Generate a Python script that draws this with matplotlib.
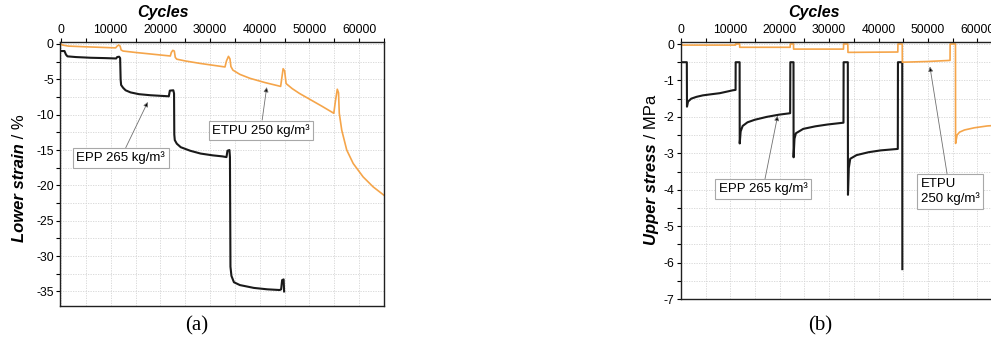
import matplotlib
matplotlib.use("Agg")
import matplotlib.pyplot as plt
from matplotlib.ticker import MultipleLocator

plt.rcParams["font.family"] = ["Liberation Sans", "DejaVu Sans"]
plt.rcParams["axes.unicode_minus"] = False

BLACK = "#1a1a1a"
ORANGE = "#f5a54a"

# (a) lower strain, %
epp_strain_cycles = [0, 700, 1000, 1300, 3000, 6000, 9000, 11100, 11300, 11700, 11900, 12000,
                     12100, 12500, 13000, 14000, 15700, 18000, 21700, 21900, 22600, 22750,
                     22800, 22900, 23300, 24100, 26000, 28100, 30500, 32500, 33300, 33500,
                     33900, 34000, 34100, 34300, 34800, 36000, 38800, 41500, 44000, 44300,
                     44500, 44800, 44900]
epp_strain = [-1.0, -1.0, -1.5, -1.75, -1.85, -1.95, -2.0, -2.05, -1.85, -1.8, -2.0, -5.0,
              -5.8, -6.2, -6.55, -6.85, -7.1, -7.25, -7.4, -6.6, -6.55, -7.0,
              -12.8, -13.6, -14.1, -14.6, -15.1, -15.5, -15.75, -15.9, -16.0, -15.1,
              -15.0, -16.0, -31.5, -32.8, -33.7, -34.1, -34.5, -34.7, -34.8, -34.7,
              -33.4, -33.3, -35.0]

etpu_strain_cycles = [0, 300, 1500, 5000, 11000, 11300, 11600, 11900, 12100, 12500, 15000,
                      18500, 22000, 22200, 22500, 22800, 23000, 23300, 25000, 28000, 31000,
                      33000, 33300, 33700, 34000, 34200, 34600, 36000, 38000, 41000, 44200,
                      44400, 44700, 45000, 45200, 45300, 46500, 48000, 50000, 52500, 54900,
                      55200, 55600, 55850, 56000, 56500, 57500, 58800, 60800, 62800, 65000]
etpu_strain = [0.0, -0.15, -0.3, -0.4, -0.55, -0.3, -0.15, -0.3, -0.85, -1.0, -1.2,
               -1.45, -1.7, -1.2, -0.9, -1.0, -1.9, -2.15, -2.4, -2.75, -3.05,
               -3.25, -2.4, -1.75, -2.1, -3.2, -3.7, -4.3, -4.85, -5.45, -6.0,
               -5.0, -3.5, -3.8, -5.0, -5.6, -6.3, -7.0, -7.8, -8.8, -9.8,
               -8.2, -6.4, -6.9, -9.8, -12.2, -15.0, -16.9, -18.8, -20.2, -21.4]

# (b) upper stress, MPa
epp_stress_cycles = [0, 1180, 1210, 1430, 2070, 3150, 4420, 6090, 7860, 9530, 10510, 11050,
                     11070, 11870, 11890, 12080, 12480, 13460, 14930, 17380, 19840, 22100,
                     22140, 22780, 22800, 22980, 23270, 24750, 27200, 29660, 32900,
                     32930, 33780, 33810, 33980, 34270, 35550, 38000, 40460, 43900,
                     43930, 44800, 44820]
epp_stress = [-0.5, -0.5, -1.72, -1.58, -1.5, -1.45, -1.41, -1.38, -1.35, -1.3, -1.27, -1.26,
              -0.5, -0.5, -2.73, -2.4, -2.25, -2.15, -2.08, -2.0, -1.94, -1.9,
              -0.5, -0.5, -3.11, -2.6, -2.45, -2.33, -2.26, -2.21, -2.16,
              -0.5, -0.5, -4.14, -3.4, -3.15, -3.05, -2.97, -2.92, -2.88,
              -0.5, -0.5, -6.18]

etpu_stress_cycles = [0, 300, 11050, 11070, 11870, 11890, 22100, 22140, 22780, 22800, 32900,
                      32930, 33780, 33810, 43900, 43930, 44800, 44820, 50000, 54480, 54500,
                      55580, 55600, 55900, 56400, 57400, 59400, 62000, 65000]
etpu_stress = [0.0, -0.03, -0.03, 0.0, 0.0, -0.09, -0.09, 0.0, 0.0, -0.14, -0.14,
               0.0, 0.0, -0.23, -0.22, 0.0, 0.0, -0.5, -0.48, -0.45, 0.0,
               0.0, -2.73, -2.5, -2.42, -2.36, -2.3, -2.25, -2.22]


def style_axes(ax, ymajor, yminor):
    ax.xaxis.set_major_locator(MultipleLocator(10000))
    ax.xaxis.set_minor_locator(MultipleLocator(5000))
    ax.yaxis.set_major_locator(MultipleLocator(ymajor))
    ax.yaxis.set_minor_locator(MultipleLocator(yminor))
    ax.tick_params(which="both", direction="out", length=3, width=0.8, labelsize=8.8,
                   top=True, labeltop=True, bottom=False, labelbottom=False,
                   right=False, pad=1.5)
    ax.grid(True, which="both", color="#d4d4d4", linestyle=(0, (1.5, 1.5)), linewidth=0.6)
    ax.set_axisbelow(True)
    for sp in ax.spines.values():
        sp.set_linewidth(1.0)
        sp.set_color("#202020")


def ylabel_two_part(fig, ax, x, y, bold, plain):
    t = fig.text(x, y, bold, rotation=90, rotation_mode="anchor", ha="left",
                 va="baseline", fontsize=12, fontweight="bold", fontstyle="italic")
    ax.annotate(plain, xy=(x, 1.0), xycoords=("figure fraction", t), rotation=90,
                rotation_mode="anchor", ha="left", va="baseline", fontsize=12,
                annotation_clip=False)


box = dict(boxstyle="square,pad=0.25", fc="white", ec="#a8a8a8", lw=0.8)
arrow = dict(arrowstyle="-|>", edgecolor="#707070", facecolor="black", lw=0.6,
             mutation_scale=7, shrinkA=0, shrinkB=0)

fig = plt.figure(figsize=(9.91, 3.41), dpi=100)

# ---- (a)
ax1 = fig.add_axes([60 / 991, 1 - 306 / 341, 324 / 991, 264 / 341])
ax1.plot(epp_strain_cycles, epp_strain, color=BLACK, lw=1.5)
ax1.plot(etpu_strain_cycles, etpu_strain, color=ORANGE, lw=1.2)
ax1.set_xlim(-200, 65000)
ax1.set_ylim(-37.06, 0.28)
style_axes(ax1, 5, 2.5)
ax1.annotate("EPP 265 kg/m³", xy=(17470, -8.2), xytext=(12050, -16.1), ha="center",
             va="center", fontsize=9.5, bbox=box, arrowprops=arrow)
ax1.annotate("ETPU 250 kg/m³", xy=(41400, -6.1), xytext=(40200, -12.2), ha="center",
             va="center", fontsize=9.5, bbox=box, arrowprops=arrow)

# ---- (b) -- axis runs past the right edge of the picture, as in the source
ax2 = fig.add_axes([681 / 991, 1 - 299 / 341, 321 / 991, 257 / 341])
ax2.plot(epp_stress_cycles, epp_stress, color=BLACK, lw=1.5)
ax2.plot(etpu_stress_cycles, etpu_stress, color=ORANGE, lw=1.2)
ax2.set_xlim(0, 65000)
ax2.set_ylim(-7, 0.055)
style_axes(ax2, 1, 0.5)
ax2.annotate("EPP 265 kg/m³", xy=(19570, -1.97), xytext=(16600, -3.98), ha="center",
             va="center", fontsize=9.5, bbox=box, arrowprops=arrow)
ax2.annotate("ETPU\n250 kg/m³", xy=(50400, -0.62), xytext=(54450, -4.05), ha="center",
             va="center", multialignment="left", fontsize=9.5, bbox=box,
             arrowprops=arrow, linespacing=1.3)

# labels
for xc in (163 / 991, 814 / 991):
    fig.text(xc, 1 - 12 / 341, "Cycles", ha="center", va="center", fontsize=11.5,
             fontweight="bold", fontstyle="italic")
ylabel_two_part(fig, ax1, 24 / 991, 1 - 242 / 341, "Lower strain", " / %")
ylabel_two_part(fig, ax2, 656 / 991, 1 - 245 / 341, "Upper stress", " / MPa")

fig.text(197 / 991, 1 - 326 / 341, "(a)", ha="center", va="center", fontsize=15,
         family="Liberation Serif")
fig.text(820 / 991, 1 - 326 / 341, "(b)", ha="center", va="center", fontsize=15,
         family="Liberation Serif")

fig.savefig("out.png", dpi=100)
